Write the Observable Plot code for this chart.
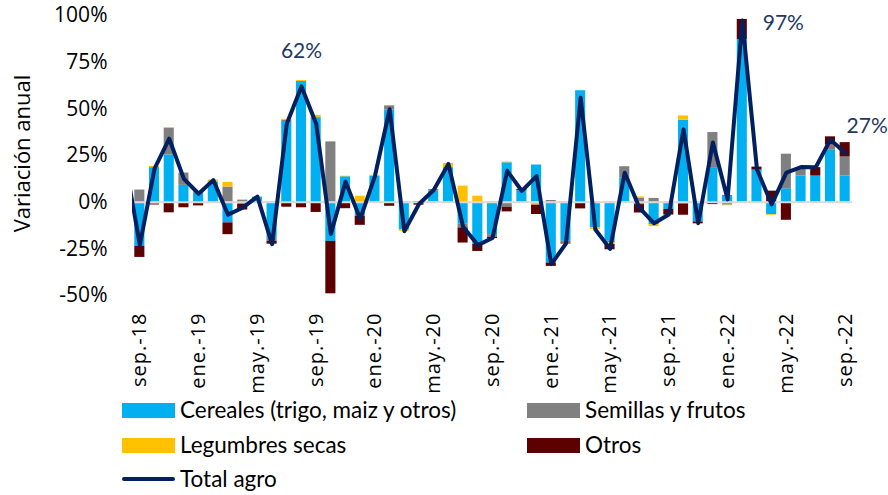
<!DOCTYPE html>
<html><head><meta charset="utf-8">
<script src="https://cdn.jsdelivr.net/npm/d3@7"></script>
<script src="https://cdn.jsdelivr.net/npm/@observablehq/plot@0.6"></script>
<style>
body{margin:0;background:#fff;font-family:Lato,"Open Sans",sans-serif;}
#wrap{position:relative;width:888px;height:495px;overflow:hidden;background:#fff}
#chart{position:absolute;left:0;top:0}
.leg{position:absolute;font-size:22.5px;color:#000;display:flex;align-items:center;white-space:nowrap;line-height:1}
.sw{display:inline-block;width:53px;height:15px;margin-right:5px}
.ln{display:inline-block;width:53px;height:4px;margin-right:5px;border-radius:2px}
g[aria-label="x-axis tick label"] text{letter-spacing:1px}
</style></head><body><div id="wrap"><div id="chart"></div></div>
<script>
const months = ["sep.-18","oct.-18","nov.-18","dic.-18","ene.-19","feb.-19","mar.-19","abr.-19","may.-19","jun.-19","jul.-19","ago.-19",
"sep.-19","oct.-19","nov.-19","dic.-19","ene.-20","feb.-20","mar.-20","abr.-20","may.-20","jun.-20","jul.-20","ago.-20",
"sep.-20","oct.-20","nov.-20","dic.-20","ene.-21","feb.-21","mar.-21","abr.-21","may.-21","jun.-21","jul.-21","ago.-21",
"sep.-21","oct.-21","nov.-21","dic.-21","ene.-22","feb.-22","mar.-22","abr.-22","may.-22","jun.-22","jul.-22","ago.-22","sep.-22"];
const cereales = [-23.7,18.5,25.3,9.0,5.0,10.9,-11.1,-1.0,2.7,-19.5,43.2,64.7,
45.3,-21.0,13.6,-6.6,14.0,49.4,-14.7,0,5.9,18.5,-11.6,-22.6,
-17.4,21.1,6.3,19.9,-32.6,-21.0,59.7,-13.6,-21.0,13.0,-1.3,-12.0,
-3.9,43.9,-10.6,18.5,3.6,87.1,17.2,-6.6,7.2,14.0,14.0,27.8,14.0];
const semillas = [6.5,-1.0,14.3,6.6,0.5,0,8.1,1.0,0,-1.5,0.7,0,
-0.5,32.3,-0.5,-1.0,0,2.2,0,0.3,0.9,0,-2.2,0,
-1.4,-2.7,0,0,0.9,-0.9,0,0,-0.7,6.0,2.0,2.0,
0,-0.9,0,18.8,-1.6,0,0,0,18.5,3.6,0,2.9,10.2];
const legumbres = [0,0.6,0.4,0,0,1.0,2.5,0.3,0,0,0.5,0.5,
1.2,0,0.3,3.2,0.4,0,-0.9,0,0,2.2,8.6,3.2,
0,0.4,-0.7,-1.6,0,0,0,-1.0,-1.0,-0.7,0.8,-1.1,
0,2.3,0,0,-0.3,0,0,-0.4,0,0,-0.4,0,0];
const otros = [-5.9,-0.5,-5.7,-3.0,-2.0,0,-6.3,-3.2,0,-1.5,-2.7,-3.0,
-5.0,-28.1,-3.0,-4.8,0,-2.2,0,-1.6,0,0,-8.1,-3.8,
-0.7,-2.5,0.5,-5.0,-1.8,-0.5,-3.6,0,-2.8,0,-4.5,0,
-3.0,-6.1,-1.0,-1.3,0,10.8,1.6,5.9,-9.7,0,4.5,4.3,7.7];
const totalAgro = [-23,18,34,12.5,4.5,11.8,-6.7,-3,3,-22.5,42,62,
42,-17,11,-9,14,49.8,-15.6,-1,6.5,20.5,-13.2,-23,
-19.2,16.8,6,14,-33.2,-22.2,56,-14.6,-25,15.8,-3,-11.3,
-6.6,39,-11.3,32,1.5,97.3,17.5,-1.2,15.8,18.8,18.7,33.5,26.3];
const totalPrevMonth = 22; // ago.-18, only partly visible at the left edge
const seriesNames = ["Cereales (trigo, maiz y otros)","Semillas y frutos","Legumbres secas","Otros"];
const seriesColors = ["#00b0f0","#808080","#ffc000","#5c0000"];
const lineName = "Total agro";
const lineColor = "#002060";
const yTicks = [-50,-25,0,25,50,75,100];
const xTickStep = 4;
const annotations = [
  {month:"ago.-19", value:62, text:"62%"},
  {month:"feb.-22", value:97, text:"97%"},
  {month:"sep.-22", value:26.3, text:"27%"}
];

const seriesArrays = [cereales, semillas, legumbres, otros];
const rows = months.flatMap((m, t) => seriesArrays.map((arr, k) => ({t, month: m, serie: seriesNames[k], value: arr[t]})));
const lineRows = [{t: -1, v: totalPrevMonth}, ...totalAgro.map((v, t) => ({t, v}))];
const annRows = annotations.map(a => ({...a, t: months.indexOf(a.month)}));

const plot = Plot.plot({
  width: 888, height: 398,
  marginTop: 15, marginBottom: 103, marginLeft: 132, marginRight: 36,
  style: {fontFamily: "Lato, 'Open Sans', sans-serif", fontSize: "20px", color: "#000", background: "#fff"},
  x: {type: "linear", domain: [-0.5, months.length - 0.5]},
  y: {domain: [-50, 100]},
  color: {domain: seriesNames, range: seriesColors},
  marks: [
    Plot.rect(rows, Plot.stackY({x: "t", x1: d => d.t - 0.5, x2: d => d.t + 0.5, y: "value", fill: "serie", insetLeft: 2.3, insetRight: 2.3})),
    Plot.ruleY([0], {stroke: "#d9d9d9", strokeWidth: 2}),
    Plot.line(lineRows, {x: "t", y: "v", stroke: lineColor, strokeWidth: 4, clip: true, strokeLinejoin: "round"}),
    Plot.axisY({ticks: yTicks, tickFormat: d => d + "%", tickSize: 0, tickPadding: 25, fontSize: 21, fontFamily: "'Open Sans', sans-serif", label: null}),
    Plot.axisX({ticks: d3.range(0, months.length, xTickStep), tickFormat: t => months[t], tickRotate: -90, tickSize: 0, tickPadding: 17, fontSize: 20, fontFamily: "'Open Sans', sans-serif", label: null}),
    Plot.text(["Variación anual"], {frameAnchor: "left", dx: -110, dy: -2, rotate: -90, textAnchor: "middle", fontSize: 22, fontFamily: "'Open Sans', sans-serif"}),
    Plot.text(annRows.filter(a => a.text === "62%"), {x: "t", y: "value", text: "text", dy: -35, fontSize: 21, fill: "#1f3864"}),
    Plot.text(annRows.filter(a => a.text === "97%"), {x: "t", y: "value", text: "text", dx: 41, dy: 2, fontSize: 21, fill: "#1f3864"}),
    Plot.text(annRows.filter(a => a.text === "27%"), {x: "t", y: "value", text: "text", dx: 22, dy: -27, fontSize: 21, fill: "#1f3864"})
  ]
});
document.getElementById("chart").appendChild(plot);

const wrap = document.getElementById("wrap");
const legendPos = [
  {left: 122, top: 399}, {left: 527, top: 399},
  {left: 122, top: 434}, {left: 527, top: 434}
];
seriesNames.forEach((name, k) => {
  const d = document.createElement("div");
  d.className = "leg";
  d.style.left = legendPos[k].left + "px";
  d.style.top = legendPos[k].top + "px";
  d.innerHTML = `<span class="sw" style="background:${seriesColors[k]}"></span><span>${name}</span>`;
  wrap.appendChild(d);
});
const dl = document.createElement("div");
dl.className = "leg";
dl.style.left = "122px"; dl.style.top = "468px";
dl.innerHTML = `<span class="ln" style="background:${lineColor}"></span><span>${lineName}</span>`;
wrap.appendChild(dl);
</script></body></html>
